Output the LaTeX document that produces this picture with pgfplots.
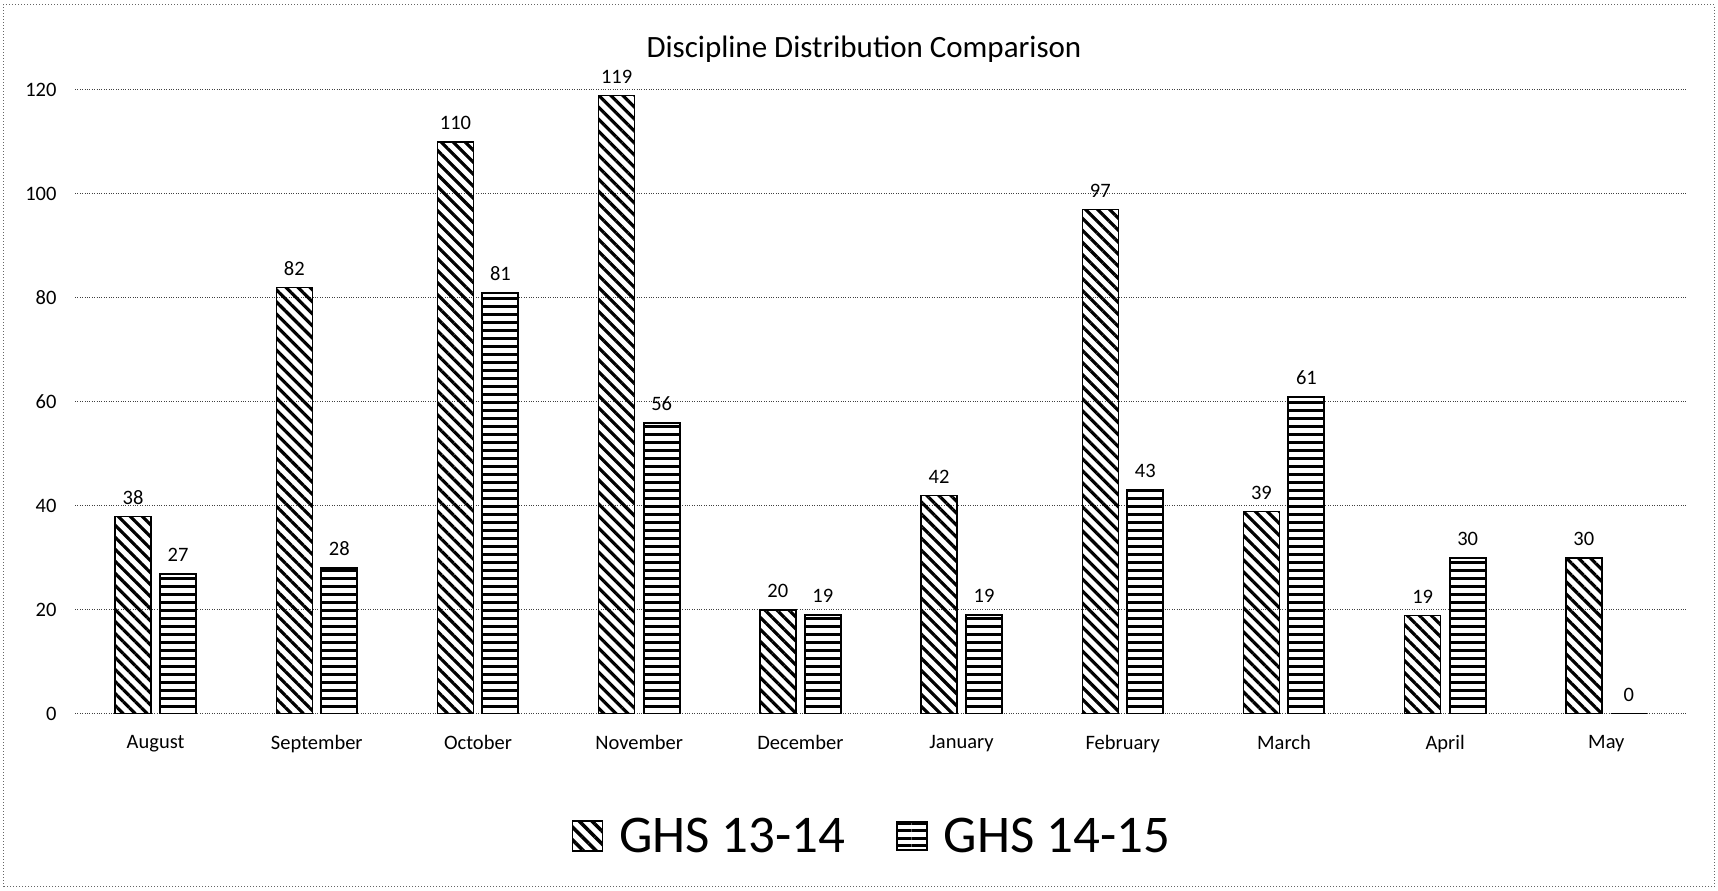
\documentclass[border=0pt]{standalone}
\usepackage{fontspec}
\setmainfont{Carlito}
\usepackage{pgfplots}
\pgfplotsset{compat=1.18}
\usetikzlibrary{patterns.meta}

\begin{document}
\begin{tikzpicture}
\useasboundingbox (0,0) rectangle (1718pt,891pt);
\draw[black!60, dotted, line width=1pt] (3pt,4pt) rectangle (1714pt,886pt);
\node[font=\fontsize{31}{37}\selectfont] at (864pt,842pt) {Discipline Distribution Comparison};
\begin{axis}[
  at={(75pt,177pt)}, anchor=south west,
  scale only axis, width=1612pt, height=624pt,
  ybar=9pt, bar width=36pt,
  xmin=-0.5, xmax=9.5, ymin=0, ymax=120,
  xtick=data,
  xticklabels={August,September,October,November,December,January,February,March,April,May},
  ytick={0,20,...,120},
  axis line style={draw=none},
  major tick length=0pt,
  ymajorgrids, grid style={black!75, dotted, line width=1pt},
  tick label style={font=\fontsize{20.5}{24}\selectfont},
  /pgf/number format/assume math mode=true,
  yticklabel style={xshift=-15pt},
  xticklabel style={yshift=-18pt},
  nodes near coords,
  nodes near coords style={font=\fontsize{20.5}{24}\selectfont, yshift=8pt, text=black},
  legend style={at={(0.494,-0.1955)}, anchor=center, draw=none, fill=none,
    font=\fontsize{53}{60}\selectfont, legend columns=2,
    /tikz/every odd column/.append style={column sep=13pt},
    /tikz/every even column/.append style={column sep=48pt}},
]
\addplot[draw=black, line width=1.3pt, pattern={Lines[angle=-45,distance=8.5pt,line width=3.2pt]}, pattern color=black,
  legend image code/.code={\fill[pattern={Lines[angle=-45,distance=9pt,line width=3.5pt]}, pattern color=black] (0pt,-15pt) rectangle (30pt,15pt);}]
  coordinates {(0,38) (1,82) (2,110) (3,119) (4,20) (5,42) (6,97) (7,39) (8,19) (9,30)};
\addlegendentry{GHS 13-14}
\addplot[draw=black, line width=2pt, pattern={Lines[angle=0,distance=8pt,line width=3pt]}, pattern color=black,
  legend image code/.code={\draw[line width=2.5pt, pattern={Lines[angle=0,distance=7.5pt,line width=3pt]}, pattern color=black] (0pt,-14pt) rectangle (30pt,14pt);}]
  coordinates {(0,27) (1,28) (2,81) (3,56) (4,19) (5,19) (6,43) (7,61) (8,30) (9,0)};
\addlegendentry{GHS 14-15}
\end{axis}
\end{tikzpicture}
\end{document}
